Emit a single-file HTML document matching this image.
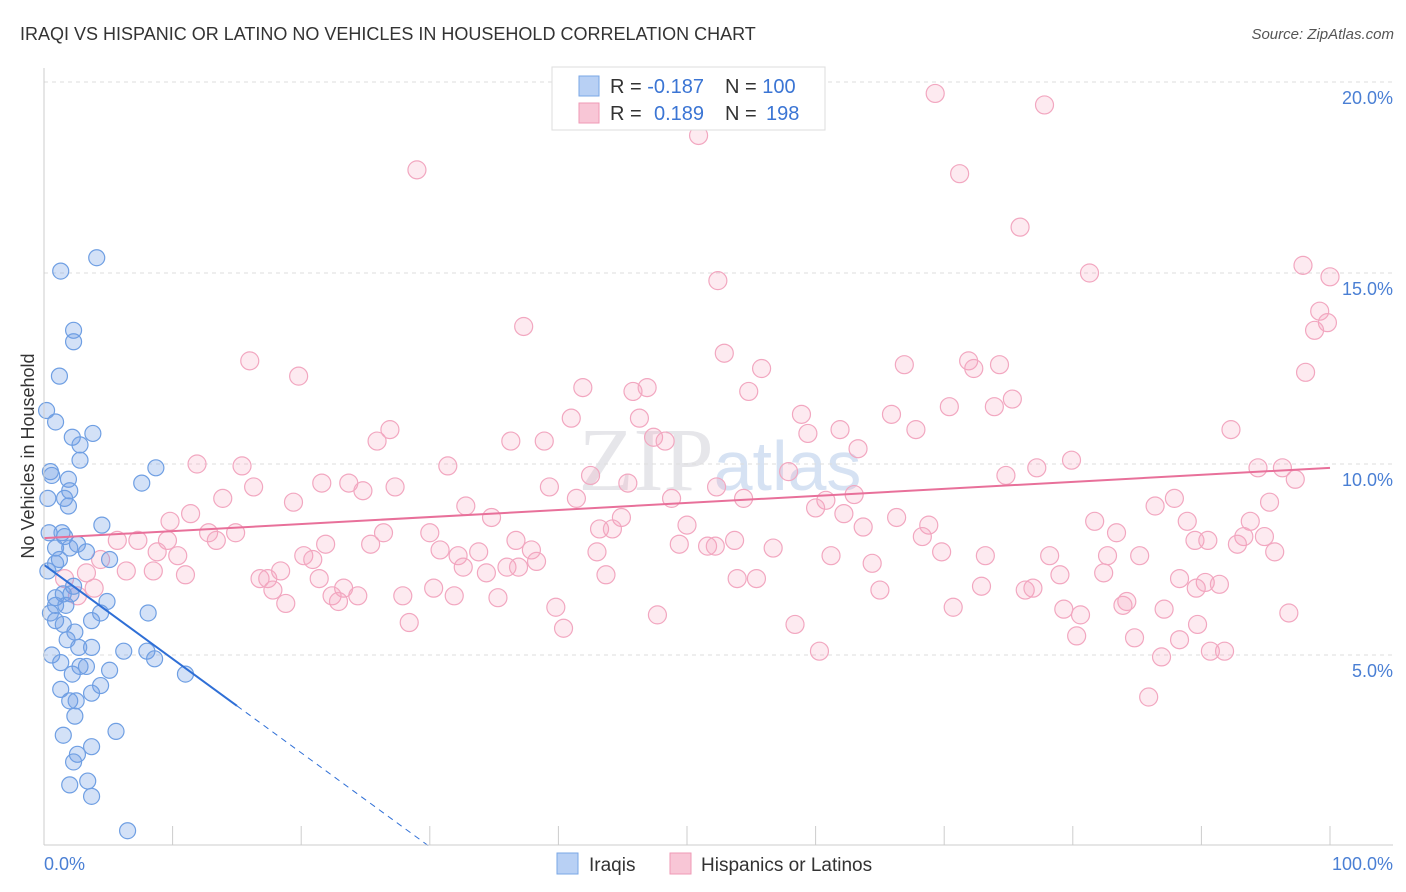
<!DOCTYPE html>
<html><head><meta charset="utf-8"><style>
body{margin:0;background:#fff;font-family:"Liberation Sans",sans-serif;}
#c{position:relative;width:1406px;height:892px;overflow:hidden;}
</style></head><body>
<div id="c">
<svg id="s" width="1406" height="892" xmlns="http://www.w3.org/2000/svg">
<text x="20" y="40" font-size="18" fill="#333">IRAQI VS HISPANIC OR LATINO NO VEHICLES IN HOUSEHOLD CORRELATION CHART</text>
<text x="1394" y="39" font-size="15" fill="#555" font-style="italic" text-anchor="end">Source: ZipAtlas.com</text>
<text x="720" y="490" font-size="90" fill="#e6e6ea" text-anchor="middle" font-family="Liberation Serif">ZIP<tspan fill="#d6e2f3" font-family="Liberation Sans" font-size="70">atlas</tspan></text>
<text transform="translate(34,456) rotate(-90)" font-size="18" fill="#333" text-anchor="middle">No Vehicles in Household</text>
<g id="grid"></g><g id="ticks"></g><g id="pts"></g><g id="lines"></g>
<line x1="44" y1="68" x2="44" y2="845" stroke="#ccc"/>
<line x1="44" y1="845" x2="1393" y2="845" stroke="#ccc"/>
<text x="44" y="870" font-size="18" fill="#4a7fd4">0.0%</text>
<text x="1393" y="870" font-size="18" fill="#4a7fd4" text-anchor="end">100.0%</text>
<g>
<rect x="552" y="67" width="273" height="63" fill="#fff" stroke="#ddd"/>
<rect x="579" y="76" width="20" height="20" fill="#b8d0f4" stroke="#7aa7e6"/>
<rect x="579" y="103" width="20" height="20" fill="#f8c6d6" stroke="#ef9ab6"/>
<text x="610" y="93" font-size="20" fill="#333">R = <tspan fill="#3b75d4">-0.187</tspan></text>
<text x="725" y="93" font-size="20" fill="#333">N = <tspan fill="#3b75d4">100</tspan></text>
<text x="610" y="120" font-size="20" fill="#333">R = <tspan fill="#3b75d4" x="654">0.189</tspan></text>
<text x="725" y="120" font-size="20" fill="#333">N = <tspan fill="#3b75d4" x="766">198</tspan></text>
</g>
<g>
<rect x="557" y="853" width="21" height="21" fill="#b8d0f4" stroke="#7aa7e6"/>
<text x="589" y="871" font-size="19" fill="#333">Iraqis</text>
<rect x="670" y="853" width="21" height="21" fill="#f8c6d6" stroke="#ef9ab6"/>
<text x="701" y="871" font-size="19" fill="#333">Hispanics or Latinos</text>
</g>
</svg>
</div>
<script>
const yTicks=[5,10,15,20];
const xTicks=[0,10,20,30,40,50,60,70,80,90,100];
const blueX=[1.3,4.1,2.3,2.3,1.2,0.2,0.9,2.2,3.8,2.8,2.8,8.7,0.5,0.6,7.6,1.9,2.0,1.6,0.3,1.9,4.5,0.4,1.4,1.6,2.6,0.9,2.0,3.3,5.1,1.2,0.3,0.9,2.3,1.5,0.9,2.1,4.9,0.9,1.7,0.5,4.4,8.1,0.9,1.5,3.7,2.4,1.8,2.7,3.7,6.2,8.0,8.6,0.6,1.3,2.8,3.3,5.1,11.0,2.2,4.4,1.3,3.7,2.0,2.5,2.4,5.6,1.5,3.7,2.6,2.3,3.4,2.0,3.7,6.5];
const blueY=[15.05,15.4,13.5,13.2,12.3,11.4,11.1,10.7,10.8,10.5,10.1,9.9,9.8,9.7,9.5,9.6,9.3,9.1,9.1,8.9,8.4,8.2,8.2,8.1,7.9,7.8,7.8,7.7,7.5,7.5,7.2,7.4,6.8,6.6,6.5,6.6,6.4,6.3,6.3,6.1,6.1,6.1,5.9,5.8,5.9,5.6,5.4,5.2,5.2,5.1,5.1,4.9,5.0,4.8,4.7,4.7,4.6,4.5,4.5,4.2,4.1,4.0,3.8,3.8,3.4,3.0,2.9,2.6,2.4,2.2,1.7,1.6,1.3,0.4];
const pinkX=[50.9,69.3,77.8,29.0,71.2,75.9,81.3,97.9,100,52.4,99.2,99.8,98.8,37.3,16.0,52.9,71.9,72.3,74.3,66.9,55.8,19.8,98.1,41.9,45.8,46.9,54.8,75.3,70.4,73.9,65.9,58.9,46.3,41.0,26.9,67.8,92.3,61.9,25.9,36.3,38.9,47.4,48.3,59.4,63.3,79.9,11.9,15.4,31.4,42.5,57.9,74.8,77.2,94.4,96.3,97.3,21.6,23.7,27.3,16.3,39.3,45.4,52.3,24.8,13.9,19.4,41.4,48.8,54.4,60.8,63.0,87.9,32.8,95.3,11.4,60.0,62.2,86.4,34.8,44.9,66.3,93.8,81.7,88.9,9.8,50.0,68.8,63.7,83.4,12.8,14.9,43.2,44.2,30.0,26.4,13.4,5.7,7.3,9.6,21.9,36.7,53.7,68.3,89.5,90.5,93.3,94.9,92.8,25.4,49.4,51.6,52.2,56.7,4.4,8.8,10.4,20.2,20.9,30.8,32.2,33.8,37.9,43.0,61.2,69.8,73.2,78.2,82.7,85.2,95.7,32.6,36.0,36.9,38.3,64.4,6.4,8.5,3.3,11.0,18.4,34.4,43.7,79.0,82.4,1.6,16.8,17.4,21.4,53.9,55.4,88.3,90.3,3.9,17.8,23.3,30.3,65.0,72.9,76.3,76.9,89.6,91.4,2.6,22.4,24.4,27.9,31.9,35.3,22.9,18.8,84.2,83.9,39.8,70.7,79.3,87.1,96.8,80.6,47.7,28.4,40.4,58.4,89.7,80.3,84.8,88.3,60.3,90.7,91.8,86.9,85.9];
const pinkY=[18.6,19.7,19.4,17.7,17.6,16.2,15.0,15.2,14.9,14.8,14.0,13.7,13.5,13.6,12.7,12.9,12.7,12.5,12.6,12.6,12.5,12.3,12.4,12.0,11.9,12.0,11.9,11.7,11.5,11.5,11.3,11.3,11.2,11.2,10.9,10.9,10.9,10.9,10.6,10.6,10.6,10.7,10.6,10.8,10.4,10.1,10.0,9.95,9.95,9.7,9.8,9.7,9.9,9.9,9.9,9.6,9.5,9.5,9.4,9.4,9.4,9.5,9.4,9.3,9.1,9.0,9.1,9.1,9.1,9.05,9.2,9.1,8.9,9.0,8.7,8.85,8.7,8.9,8.6,8.6,8.6,8.5,8.5,8.5,8.5,8.4,8.4,8.35,8.2,8.2,8.2,8.3,8.3,8.2,8.2,8.0,8.0,8.0,8.0,7.9,8.0,8.0,8.1,8.0,8.0,8.1,8.1,7.9,7.9,7.9,7.85,7.85,7.8,7.5,7.7,7.6,7.6,7.5,7.75,7.6,7.7,7.75,7.7,7.6,7.7,7.6,7.6,7.6,7.6,7.7,7.3,7.3,7.3,7.45,7.4,7.2,7.2,7.15,7.1,7.2,7.15,7.1,7.1,7.15,7.0,7.0,7.0,7.0,7.0,7.0,7.0,6.9,6.75,6.7,6.75,6.75,6.7,6.8,6.7,6.75,6.75,6.85,6.55,6.55,6.55,6.55,6.55,6.5,6.4,6.35,6.4,6.3,6.25,6.25,6.2,6.2,6.1,6.05,6.05,5.85,5.7,5.8,5.8,5.5,5.45,5.4,5.1,5.1,5.1,4.95,3.9];
const blueTrend=[7.36,-0.246];
const pinkTrend=[8.06,0.0184];
const X=v=>44+v*12.86, Y=v=>846-v*38.2;
const NS='http://www.w3.org/2000/svg';
function mk(t,a,p){const e=document.createElementNS(NS,t);for(const k in a)e.setAttribute(k,a[k]);p.appendChild(e);return e;}
const g=document.getElementById('grid'),tk=document.getElementById('ticks'),pg=document.getElementById('pts'),lg=document.getElementById('lines');
yTicks.forEach(v=>{
 const l=mk('line',{x1:44,x2:1393,y1:Y(v),y2:Y(v),stroke:'#ddd','stroke-dasharray':'4,4'},g);
 
 
 const t=mk('text',{x:1393,y:Y(v)+22,'font-size':18,fill:'#4a7fd4','text-anchor':'end'},g);
 t.textContent=v.toFixed(1)+'%';
 
 
});
xTicks.forEach(v=>{
 const l=mk('line',{x1:X(v),x2:X(v),y1:826,y2:845,stroke:'#ccc'},tk);
 
 
});
pinkX.forEach((x,i)=>{
 const c=mk('circle',{cx:X(x),cy:Y(pinkY[i]),r:9,fill:'rgba(244,160,188,0.22)',stroke:'#f2a7c0','stroke-width':1.2},pg);
 
 
});
blueX.forEach((x,i)=>{
 const c=mk('circle',{cx:X(x),cy:Y(blueY[i]),r:8,fill:'rgba(110,155,230,0.3)',stroke:'#6f9fe3','stroke-width':1.2},pg);
 
 
});
const bz=-blueTrend[0]/blueTrend[1];
const b1=mk('line',{x1:X(0),y1:Y(blueTrend[0]),x2:X(15),y2:Y(blueTrend[0]+15*blueTrend[1]),stroke:'#2f6fd6','stroke-width':2},lg);


const b2=mk('line',{x1:X(15),y1:Y(blueTrend[0]+15*blueTrend[1]),x2:X(bz),y2:Y(0),stroke:'#2f6fd6','stroke-width':1,'stroke-dasharray':'6,5'},lg);


const p1=mk('line',{x1:X(0),y1:Y(pinkTrend[0]),x2:X(100),y2:Y(pinkTrend[0]+100*pinkTrend[1]),stroke:'#e8709a','stroke-width':2},lg);


</script>
</body></html>
